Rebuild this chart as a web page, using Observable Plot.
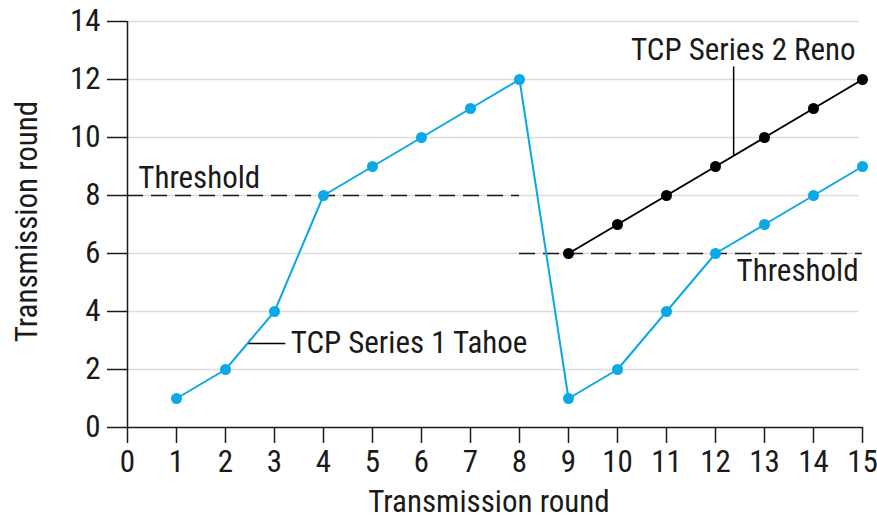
<!DOCTYPE html>
<html>
<head>
<meta charset="utf-8">
<script src="https://cdn.jsdelivr.net/npm/d3@7"></script>
<script src="https://cdn.jsdelivr.net/npm/@observablehq/plot@0.6"></script>
<style>
  html, body { margin: 0; padding: 0; background: #fff; }
  #chart svg { display: block; font-stretch: condensed; }
  #chart svg text { font-stretch: condensed; }
</style>
</head>
<body>
<div id="chart"></div>
<script>
const FONT = "Roboto, sans-serif";
const FS = 31;

const xTicks = [0,1,2,3,4,5,6,7,8,9,10,11,12,13,14,15];
const yTicks = [0,2,4,6,8,10,12,14];
const gridY = [2,4,6,8,10,12,14];

const tahoeRounds1 = [1,2,3,4,5,6,7,8];
const tahoeValues1 = [1,2,4,8,9,10,11,12];
const tahoeRounds2 = [9,10,11,12,13,14,15];
const tahoeValues2 = [1,2,4,6,7,8,9];
const renoRounds = [9,10,11,12,13,14,15];
const renoValues = [6,7,8,9,10,11,12];

const threshold1 = {value: 8, from: 0, to: 8};
const threshold2 = {value: 6, from: 8, to: 15};

const xLabel = "Transmission round";
const yLabel = "Transmission round";

const tahoe = [...tahoeRounds1.map((x,i)=>({x, y: tahoeValues1[i]})),
               ...tahoeRounds2.map((x,i)=>({x, y: tahoeValues2[i]}))];
const reno = renoRounds.map((x,i)=>({x, y: renoValues[i]}));

const labelsStart = [
  {x: 0.22, y: 8.6, text: "Threshold"},
  {x: 3.33, y: 2.9, text: "TCP Series 1 Tahoe"}
];
const labelsEnd = [
  {x: 14.92, y: 5.4, text: "Threshold"},
  {x: 14.86, y: 13.0, text: "TCP Series 2 Reno"}
];
const leaders = [
  {x1: 12.37, y1: 12.45, x2: 12.37, y2: 9.4},
  {x1: 2.47, y1: 2.9, x2: 3.22, y2: 2.9}
];

const BLUE = "#0aa8e6";
const INK = "#1a1a1a";

const chart = Plot.plot({
  width: 877,
  height: 520,
  marginLeft: 127,
  marginRight: 15,
  marginTop: 21,
  marginBottom: 93,
  x: {domain: [0, 15]},
  y: {domain: [0, 14]},
  style: {fontFamily: FONT, fontSize: FS + "px", color: INK, background: "#fff"},
  marks: [
    Plot.ruleY(gridY, {x1: 0, x2: 14.93, stroke: "#dcdcdc", strokeWidth: 1.5}),
    Plot.axisX({ticks: xTicks, tickFormat: d => String(d), tickSize: 16, tickPadding: 6, label: null, fontSize: FS, stroke: INK, strokeWidth: 1.5}),
    Plot.axisY({ticks: yTicks, tickFormat: d => String(d), tickSize: 20, tickPadding: 7, label: null, fontSize: FS, stroke: INK, strokeWidth: 1.5}),
    Plot.ruleY([0], {x1: 0, x2: 15, stroke: INK, strokeWidth: 1.5}),
    Plot.ruleX([0], {y1: 0, y2: 14, stroke: INK, strokeWidth: 1.5}),
    Plot.ruleY([threshold1], {y: "value", x1: "from", x2: "to", stroke: INK, strokeWidth: 1.5, strokeDasharray: "16,8"}),
    Plot.ruleY([threshold2], {y: "value", x1: "from", x2: "to", stroke: INK, strokeWidth: 1.5, strokeDasharray: "16,8"}),
    Plot.line(tahoe, {x: "x", y: "y", stroke: BLUE, strokeWidth: 2}),
    Plot.dot(tahoe, {x: "x", y: "y", fill: BLUE, r: 5.5}),
    Plot.line(reno, {x: "x", y: "y", stroke: "#000", strokeWidth: 2}),
    Plot.dot(reno, {x: "x", y: "y", fill: "#000", r: 5.5}),
    Plot.link(leaders, {x1: "x1", y1: "y1", x2: "x2", y2: "y2", stroke: "#000", strokeWidth: 1.5}),
    Plot.text(labelsStart, {x: "x", y: "y", text: "text", textAnchor: "start", fill: INK, fontSize: FS}),
    Plot.text(labelsEnd, {x: "x", y: "y", text: "text", textAnchor: "end", fill: INK, fontSize: FS}),
    Plot.text([xLabel], {frameAnchor: "bottom", dx: -6, dy: 75, textAnchor: "middle", lineAnchor: "middle", fill: INK, fontSize: FS}),
    Plot.text([yLabel], {frameAnchor: "left", dx: -100, dy: -3, rotate: -90, textAnchor: "middle", lineAnchor: "middle", fill: INK, fontSize: FS})
  ]
});
document.getElementById("chart").appendChild(chart);
</script>
</body>
</html>
